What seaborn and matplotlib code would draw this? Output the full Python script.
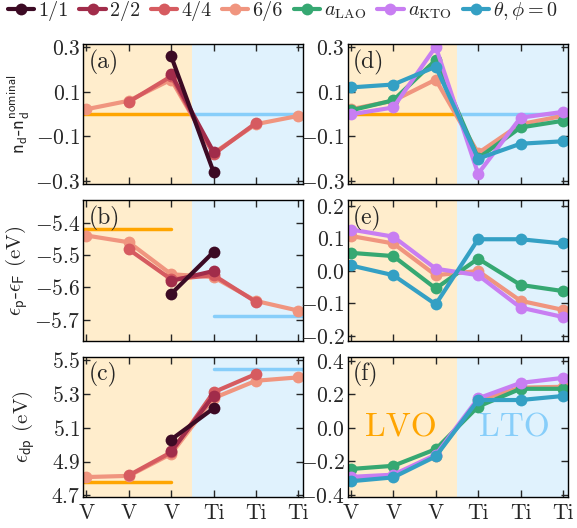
import matplotlib
matplotlib.use("Agg")
import matplotlib.pyplot as plt
import seaborn as sns
import numpy as np

# layer positions and labels
x_all = [0, 1, 2, 3, 4, 5]
x_11 = [2, 3]
x_44 = [1, 2, 3, 4]
layer_labels = ["V", "V", "V", "Ti", "Ti", "Ti"]

# (a) n_d - n_d^nominal
a_11 = [0.26, -0.26]
a_22 = [0.18, -0.17]
a_44 = [0.055, 0.17, -0.18, -0.04]
a_66 = [0.022, 0.06, 0.155, -0.175, -0.045, -0.008]

# (b) eps_p - eps_F
b_11 = [-5.62, -5.49]
b_22 = [-5.58, -5.549]
b_44 = [-5.482, -5.575, -5.562, -5.645]
b_66 = [-5.439, -5.46, -5.559, -5.568, -5.642, -5.672]

# (c) eps_dp
c_11 = [5.03, 5.215]
c_22 = [4.96, 5.29]
c_44 = [4.818, 4.955, 5.31, 5.418]
c_66 = [4.808, 4.815, 4.945, 5.275, 5.378, 5.398]

# (d) n_d - n_d^nominal, strain / tilt variants (6/6)
d_66 = a_66
d_lao = [0.017, 0.062, 0.243, -0.198, -0.06, -0.03]
d_kto = [-0.001, 0.03, 0.303, -0.268, -0.016, 0.01]
d_tilt = [0.12, 0.133, 0.213, -0.2, -0.133, -0.122]

# (e) eps_p - eps_F relative
e_66 = [0.108, 0.085, -0.013, 0.0, -0.092, -0.12]
e_lao = [0.056, 0.046, -0.054, 0.038, -0.043, -0.062]
e_kto = [0.128, 0.106, 0.007, -0.013, -0.113, -0.142]
e_tilt = [0.017, -0.013, -0.103, 0.098, 0.098, 0.085]

# (f) eps_dp relative
f_66 = [-0.30, -0.287, -0.165, 0.165, 0.24, 0.245]
f_lao = [-0.245, -0.226, -0.127, 0.127, 0.233, 0.233]
f_kto = [-0.292, -0.279, -0.16, 0.176, 0.268, 0.298]
f_tilt = [-0.318, -0.295, -0.17, 0.166, 0.166, 0.19]

# bulk reference levels (LVO, LTO)
ref_a = [0.0, 0.0]
ref_b = [-5.42, -5.69]
ref_c = [4.778, 5.447]

colors = {
    "1/1": "#3c0a24",
    "2/2": "#a12c4a",
    "4/4": "#d65b60",
    "6/6": "#f0957f",
    "lao": "#36a872",
    "kto": "#c87ef2",
    "tilt": "#34a0c4",
}

XLIM = (-0.08, 5.12)
LVO_C = "orange"
LTO_C = "lightskyblue"
MS = 8.5
LW = 3


def draw(ax, x, y, key, label=None):
    sns.lineplot(x=x, y=y, ax=ax, color=colors[key], marker="o", markersize=MS,
                 markeredgewidth=0, linewidth=LW, label=label, legend=False)


def shade(ax):
    ax.axvspan(XLIM[0], 2.5, color=LVO_C, alpha=0.2, lw=0, zorder=0)
    ax.axvspan(2.5, XLIM[1], color=LTO_C, alpha=0.25, lw=0, zorder=0)


def setup(ax, ylim, yticks, tag):
    ax.set_xlim(*XLIM)
    ax.set_ylim(*ylim)
    ax.set_yticks(yticks)
    ax.set_xticks(x_all)
    ax.tick_params(direction="in", top=True, right=True, length=5, width=1,
                   labelsize=15.5, pad=2)
    ax.tick_params(axis="x", pad=5)
    ax.text(0.025, 0.96, tag, transform=ax.transAxes, ha="left", va="top",
            fontsize=17)
    for s in ax.spines.values():
        s.set_linewidth(1)
        s.set_color("black")


sns.set_style("ticks")
plt.rcParams["font.family"] = "serif"
plt.rcParams["font.serif"] = ["cmr10", "DejaVu Serif"]
plt.rcParams["mathtext.fontset"] = "cm"
plt.rcParams["axes.formatter.use_mathtext"] = True
plt.rcParams["axes.unicode_minus"] = True

fig, axes = plt.subplots(3, 2, figsize=(5.77, 5.28), dpi=100)
fig.subplots_adjust(left=83 / 577, right=568 / 577, top=1 - 44 / 528,
                    bottom=1 - 497 / 528, wspace=0.2, hspace=0.115)

for ax in axes.flat:
    shade(ax)

# left column
ax = axes[0, 0]
ax.plot([XLIM[0], 2.5], [ref_a[0]] * 2, color=LVO_C, lw=2.5, zorder=1)
ax.plot([2.5, XLIM[1]], [ref_a[1]] * 2, color=LTO_C, lw=2.5, zorder=1)
draw(ax, x_all, a_66, "6/6")
draw(ax, x_44, a_44, "4/4")
draw(ax, x_11, a_22, "2/2")
draw(ax, x_11, a_11, "1/1")
setup(ax, (-0.315, 0.315), [-0.3, -0.1, 0.1, 0.3], "(a)")
ax.set_ylabel(r"$\mathsf{n_d}$-$\mathsf{n_d^{nominal}}$", fontsize=13.5, labelpad=2)

ax = axes[1, 0]
ax.plot([XLIM[0], 2], [ref_b[0]] * 2, color=LVO_C, lw=2.5, zorder=1)
ax.plot([3, XLIM[1]], [ref_b[1]] * 2, color=LTO_C, lw=2.5, zorder=1)
draw(ax, x_all, b_66, "6/6")
draw(ax, x_44, b_44, "4/4")
draw(ax, x_11, b_22, "2/2")
draw(ax, x_11, b_11, "1/1")
setup(ax, (-5.765, -5.33), [-5.7, -5.6, -5.5, -5.4], "(b)")
ax.set_ylabel(r"$\epsilon_\mathsf{p}$-$\epsilon_\mathsf{F}$ (eV)", fontsize=15, labelpad=3)

ax = axes[2, 0]
ax.plot([XLIM[0], 2], [ref_c[0]] * 2, color=LVO_C, lw=2.5, zorder=1)
ax.plot([3, XLIM[1]], [ref_c[1]] * 2, color=LTO_C, lw=2.5, zorder=1)
draw(ax, x_all, c_66, "6/6")
draw(ax, x_44, c_44, "4/4")
draw(ax, x_11, c_22, "2/2")
draw(ax, x_11, c_11, "1/1")
setup(ax, (4.69, 5.52), [4.7, 4.9, 5.1, 5.3, 5.5], "(c)")
ax.set_ylabel(r"$\epsilon_\mathsf{dp}$ (eV)", fontsize=15, labelpad=10)

# right column
ax = axes[0, 1]
ax.plot([XLIM[0], 2.5], [ref_a[0]] * 2, color=LVO_C, lw=2.5, zorder=1)
ax.plot([2.5, XLIM[1]], [ref_a[1]] * 2, color=LTO_C, lw=2.5, zorder=1)
draw(ax, x_all, d_66, "6/6")
draw(ax, x_all, d_lao, "lao")
draw(ax, x_all, d_kto, "kto")
draw(ax, x_all, d_tilt, "tilt")
setup(ax, (-0.315, 0.315), [-0.3, -0.1, 0.1, 0.3], "(d)")

ax = axes[1, 1]
draw(ax, x_all, e_66, "6/6")
draw(ax, x_all, e_lao, "lao")
draw(ax, x_all, e_kto, "kto")
draw(ax, x_all, e_tilt, "tilt")
setup(ax, (-0.215, 0.218), [-0.2, -0.1, 0.0, 0.1, 0.2], "(e)")

ax = axes[2, 1]
draw(ax, x_all, f_66, "6/6")
draw(ax, x_all, f_lao, "lao")
draw(ax, x_all, f_kto, "kto")
draw(ax, x_all, f_tilt, "tilt")
setup(ax, (-0.412, 0.424), [-0.4, -0.2, 0.0, 0.2, 0.4], "(f)")
ax.text(1.18, 0.0, "LVO", color=LVO_C, fontsize=24, ha="center", va="center")
ax.text(3.85, 0.0, "LTO", color=LTO_C, fontsize=24, ha="center", va="center")

for ax in axes[:2].flat:
    ax.set_xticklabels([])
for ax in axes[2]:
    ax.set_xticklabels(layer_labels)

# legend
legend_items = [
    ("1/1", "1/1"), ("2/2", "2/2"), ("4/4", "4/4"), ("6/6", "6/6"),
    ("lao", r"$a_\mathrm{LAO}$"), ("kto", r"$a_\mathrm{KTO}$"),
    ("tilt", r"$\theta, \phi = 0$"),
]
handles = [plt.Line2D([], [], color=colors[k], marker="o", markersize=MS,
                      markeredgewidth=0, linewidth=LW) for k, _ in legend_items]
fig.legend(handles, [lab for _, lab in legend_items], loc="upper left",
           bbox_to_anchor=(0.003, 1.012), ncol=7, frameon=False, fontsize=14.5,
           handlelength=1.3, handletextpad=0.2, columnspacing=0.55,
           borderaxespad=0.2, borderpad=0.1)

fig.savefig("out.png", dpi=100)
